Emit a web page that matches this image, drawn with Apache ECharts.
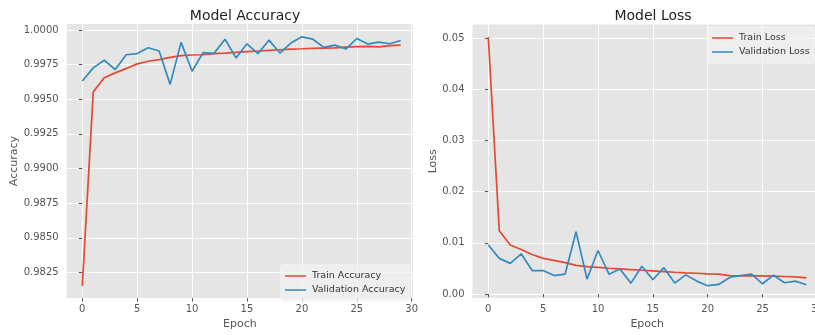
<!DOCTYPE html>
<html>
<head>
<meta charset="utf-8">
<script src="https://cdn.jsdelivr.net/npm/echarts@6/dist/echarts.min.js"></script>
<style>html,body{margin:0;padding:0;background:#fff;overflow:hidden;width:815px;height:335px;}#c{width:830px;height:335px;}</style>
</head>
<body>
<div id="c"></div>
<script>
const epochs = Array.from({length: 30}, (_, i) => i);
const trainAcc = [0.98153, 0.99553, 0.99655, 0.99690, 0.99721, 0.99755, 0.99774, 0.99786, 0.99802, 0.99814,
  0.99819, 0.99821, 0.99829, 0.99833, 0.99838, 0.99843, 0.99848, 0.99852, 0.99857, 0.99862,
  0.99864, 0.99867, 0.99869, 0.99871, 0.99876, 0.99879, 0.99881, 0.99878, 0.99886, 0.99890];
const valAcc = [0.99631, 0.99726, 0.99781, 0.99714, 0.99821, 0.99829, 0.99871, 0.99848, 0.99607, 0.99910,
  0.99702, 0.99836, 0.99831, 0.99933, 0.99798, 0.99900, 0.99829, 0.99926, 0.99833, 0.99905,
  0.99950, 0.99933, 0.99874, 0.99890, 0.99862, 0.99938, 0.99898, 0.99912, 0.99900, 0.99924];
const trainLoss = [0.0502, 0.01236, 0.00958, 0.00868, 0.00772, 0.00695, 0.00656, 0.00611, 0.00560, 0.00534,
  0.00521, 0.00502, 0.00489, 0.00476, 0.00463, 0.00450, 0.00437, 0.00424, 0.00412, 0.00405,
  0.00392, 0.00386, 0.00360, 0.00354, 0.00354, 0.00354, 0.00347, 0.00341, 0.00334, 0.00315];
const valLoss = [0.00958, 0.00695, 0.00598, 0.00785, 0.00457, 0.00457, 0.00360, 0.00386, 0.01215, 0.00289,
  0.00849, 0.00386, 0.00489, 0.00212, 0.00540, 0.00277, 0.00514, 0.00212, 0.00373, 0.00251,
  0.00161, 0.00186, 0.00322, 0.00360, 0.00386, 0.00199, 0.00367, 0.00219, 0.00251, 0.00180];
const xTicks = [0, 5, 10, 15, 20, 25, 30];
const accTicks = [0.9825, 0.9850, 0.9875, 0.9900, 0.9925, 0.9950, 0.9975, 1.0000];
const lossTicks = [0.00, 0.01, 0.02, 0.03, 0.04, 0.05];
const titles = ['Model Accuracy', 'Model Loss'];
const yNames = ['Accuracy', 'Loss'];
const xName = 'Epoch';
const legendNames = ['Train Accuracy', 'Validation Accuracy', 'Train Loss', 'Validation Loss'];

const FONT = '"DejaVu Sans", sans-serif';
const RED = '#E24A33', BLUE = '#348ABD';
const pair = arr => epochs.map((e, i) => [e, arr[i]]);

function xAxis(gi, min, max) {
  return {
    type: 'value', gridIndex: gi, min: min, max: max,
    name: xName, nameLocation: 'middle', nameGap: 19,
    nameTextStyle: {fontFamily: FONT, fontSize: 11, color: '#555'},
    axisLine: {show: false},
    axisTick: {show: true, length: 3.5, customValues: xTicks, lineStyle: {color: '#555', width: 1}},
    axisLabel: {customValues: xTicks, fontFamily: FONT, fontSize: 10, color: '#555', margin: 6,
      formatter: v => String(Math.round(v))},
    splitLine: {show: true, lineStyle: {color: '#fff', width: 1}}
  };
}
function yAxis(gi, min, max, ticks, dec, name, gap) {
  return {
    type: 'value', gridIndex: gi, min: min, max: max,
    name: name, nameLocation: 'middle', nameGap: gap, nameRotate: 90,
    nameTextStyle: {fontFamily: FONT, fontSize: 11, color: '#555'},
    axisLine: {show: false},
    axisTick: {show: true, length: 3.5, customValues: ticks, lineStyle: {color: '#555', width: 1}},
    axisLabel: {customValues: ticks, fontFamily: FONT, fontSize: 10, color: '#555', margin: 8,
      formatter: v => v.toFixed(dec)},
    splitLine: {show: true, lineStyle: {color: '#fff', width: 1}}
  };
}
function line(name, data, color, xi) {
  return {
    name: name, type: 'line', xAxisIndex: xi, yAxisIndex: xi, data: data,
    showSymbol: false, symbol: 'none', lineStyle: {color: color, width: 1.7}, itemStyle: {color: color},
    emphasis: {disabled: true}
  };
}
const legendCommon = {
  orient: 'vertical', icon: 'rect', itemWidth: 21, itemHeight: 1.5, itemGap: 0,
  backgroundColor: 'rgba(240,240,240,0.75)', borderColor: 'rgba(245,245,245,0.9)', borderWidth: 1,
  borderRadius: 2, padding: [4, 4, 4, 4],
  textStyle: {fontFamily: FONT, fontSize: 9.5, color: '#333', lineHeight: 14, padding: [0, 0, 0, 1]},
  selectedMode: false
};

const chart = echarts.init(document.getElementById('c'), null, {renderer: 'canvas'});
chart.setOption({
  animation: false,
  backgroundColor: '#fff',
  title: [
    {text: titles[0], left: 240, top: 4, textAlign: 'center',
      textStyle: {fontFamily: FONT, fontSize: 14, fontWeight: 'normal', color: '#222'}},
    {text: titles[1], left: 648, top: 4, textAlign: 'center',
      textStyle: {fontFamily: FONT, fontSize: 14, fontWeight: 'normal', color: '#222'}}
  ],
  grid: [
    {left: 66.7, top: 24, width: 346.3, height: 278, backgroundColor: '#E5E5E5', show: true, borderWidth: 0},
    {left: 472.5, top: 24.5, width: 349.5, height: 277, backgroundColor: '#E5E5E5', show: true, borderWidth: 0}
  ],
  xAxis: [xAxis(0, -1.42, 30.12), xAxis(1, -1.44, 30.42)],
  yAxis: [
    yAxis(0, 0.98065, 1.000427, accTicks, 4, yNames[0], 47),
    yAxis(1, -0.00081, 0.05266, lossTicks, 2, yNames[1], 34)
  ],
  legend: [
    Object.assign({}, legendCommon, {data: legendNames.slice(0, 2), left: 281, top: 265}),
    Object.assign({}, legendCommon, {data: legendNames.slice(2, 4), left: 708, top: 27})
  ],
  series: [
    line(legendNames[0], pair(trainAcc), RED, 0),
    line(legendNames[1], pair(valAcc), BLUE, 0),
    line(legendNames[2], pair(trainLoss), RED, 1),
    line(legendNames[3], pair(valLoss), BLUE, 1)
  ]
});
</script>
</body>
</html>
